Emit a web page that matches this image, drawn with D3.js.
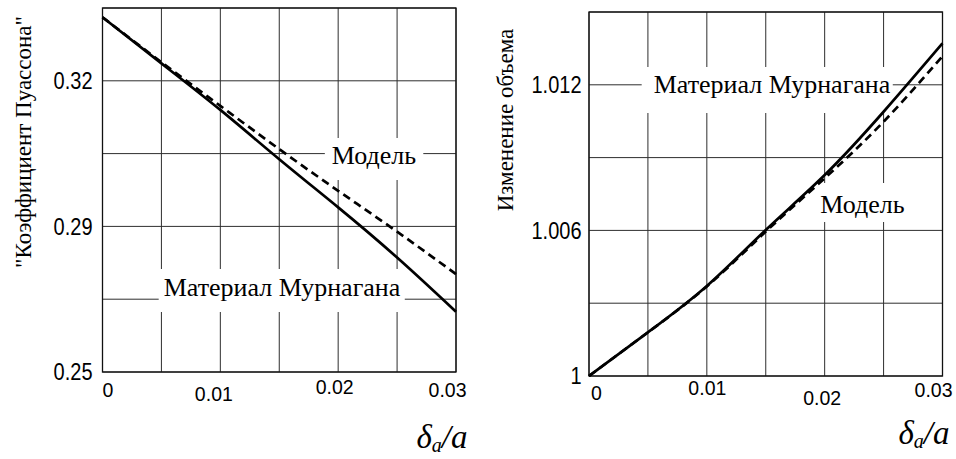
<!DOCTYPE html>
<html><head><meta charset="utf-8">
<script src="https://cdn.jsdelivr.net/npm/d3@7"></script>
<style>
html,body{margin:0;padding:0;background:#fff;}
svg{display:block;}
</style></head><body>
<svg id="chart" width="956" height="459"></svg>
<script>
// Relative displacement δa/a
const strain = [0, 0.005, 0.01, 0.015, 0.02, 0.025, 0.03];
// "Poisson ratio" vs strain
const poissonMurnaghan = [0.3377, 0.3263, 0.3148, 0.3026, 0.2907, 0.2783, 0.2649];
const poissonModel     = [0.3377, 0.3266, 0.3158, 0.3051, 0.2948, 0.2847, 0.2742];
// Volume change vs strain
const volumeMurnaghan = [1.0, 1.0018, 1.00371, 1.00602, 1.00828, 1.01089, 1.01371];
const volumeModel     = [1.0, 1.0018, 1.00369, 1.00595, 1.00815, 1.01048, 1.01318];

// Axes: grid values and labelled ticks
const xGrid = [0, 0.005, 0.01, 0.015, 0.02, 0.025, 0.03];
const xTicks = [0, 0.01, 0.02, 0.03];
const xTickLabels = ["0", "0.01", "0.02", "0.03"];
const poissonGrid = [0.25, 0.268, 0.286, 0.304, 0.322, 0.34];
const poissonTicks = [0.25, 0.286, 0.322];
const volumeGrid = [1, 1.003, 1.006, 1.009, 1.012, 1.015];
const volumeTicks = [1, 1.006, 1.012];

const svg = d3.select("#chart");

const panels = [
  {
    box: {left: 102.5, top: 8, right: 456, bottom: 372},
    yDomain: [0.25, 0.34], yGrid: poissonGrid, yTicks: poissonTicks,
    yFormat: d3.format(".2f"), yPad: 10,
    solid: poissonMurnaghan, dashed: poissonModel,
    yTitle: "\"Коэффициент Пуассона\"", yTitleX: 31, yTitleY: 142,
    xLabelShift: [[5, 18], [-7, 21.5], [-4, 15], [-9, 18]],
    xTitle: {x: 416.5, y: 448},
    notes: [
      {text: "Модель", cx: 374, base: 164, pad: [7, 7, 26, 16]},
      {text: "Материал Мурнагана", cx: 282, base: 296, pad: [5, 4, 27, 16]}
    ]
  },
  {
    box: {left: 589, top: 12, right: 942.5, bottom: 376},
    yDomain: [1, 1.015], yGrid: volumeGrid, yTicks: volumeTicks,
    yFormat: d3.format("~g"), yPad: 7.5,
    solid: volumeMurnaghan, dashed: volumeModel,
    yTitle: "Изменение объема", yTitleX: 513, yTitleY: 120,
    xLabelShift: [[7, 17], [0, 12], [-3, 22], [-9.5, 14]],
    xTitle: {x: 898.5, y: 444},
    notes: [
      {text: "Материал Мурнагана", cx: 772, base: 93, pad: [12, 2, 26, 20]},
      {text: "Модель", cx: 862.5, base: 213, pad: [5, 5, 30, 9]}
    ]
  }
];

panels.forEach(p => {
  const b = p.box;
  const x = d3.scaleLinear().domain([0, 0.03]).range([b.left, b.right]);
  const y = d3.scaleLinear().domain(p.yDomain).range([b.bottom, b.top]);
  const g = svg.append("g");

  // grid
  const grid = g.append("g").attr("stroke", "#2e2e2e").attr("stroke-width", 1);
  grid.selectAll("line.v").data(xGrid).join("line").attr("class", "v")
    .attr("x1", d => x(d)).attr("x2", d => x(d))
    .attr("y1", b.top).attr("y2", b.bottom);
  grid.selectAll("line.h").data(p.yGrid).join("line").attr("class", "h")
    .attr("x1", b.left).attr("x2", b.right)
    .attr("y1", d => y(d)).attr("y2", d => y(d));

  // frame
  g.append("rect")
    .attr("x", b.left).attr("y", b.top)
    .attr("width", b.right - b.left).attr("height", b.bottom - b.top)
    .attr("fill", "none").attr("stroke", "#111").attr("stroke-width", 1.3);

  // annotation texts with white backing that interrupts the grid
  const notes = g.append("g");
  p.notes.forEach(n => {
    const t = notes.append("text")
      .attr("x", n.cx).attr("y", n.base)
      .attr("text-anchor", "middle")
      .attr("font-family", "'Liberation Serif', 'Times New Roman', serif")
      .attr("font-size", 26).attr("fill", "#000")
      .text(n.text);
    const bb = t.node().getBBox();
    notes.insert("rect", "text")
      .attr("x", bb.x - n.pad[0]).attr("y", n.base - n.pad[2])
      .attr("width", bb.width + n.pad[0] + n.pad[1])
      .attr("height", n.pad[2] + n.pad[3])
      .attr("fill", "#fff");
  });

  // curves
  const line = d3.line()
    .x((d, i) => x(strain[i]))
    .y(d => y(d))
    .curve(d3.curveNatural);
  g.append("path").datum(p.dashed).attr("d", line)
    .attr("fill", "none").attr("stroke", "#000").attr("stroke-width", 2.7)
    .attr("stroke-dasharray", "8,5");
  g.append("path").datum(p.solid).attr("d", line)
    .attr("fill", "none").attr("stroke", "#000").attr("stroke-width", 2.7);

  // y axis labels
  const ya = g.append("g").attr("transform", `translate(${b.left},0)`)
    .call(d3.axisLeft(y).tickValues(p.yTicks).tickFormat(p.yFormat)
      .tickSize(0).tickPadding(p.yPad));
  ya.select(".domain").remove();
  ya.selectAll("text")
    .attr("font-family", "'Liberation Sans', Arial, sans-serif")
    .attr("font-size", 20).attr("fill", "#000")
    .attr("transform", "scale(1,1.2)");

  // x axis labels
  const xa = g.append("g").attr("transform", `translate(0,${b.bottom})`)
    .call(d3.axisBottom(x).tickValues(xTicks)
      .tickFormat((d, i) => xTickLabels[i]).tickSize(0).tickPadding(0));
  xa.select(".domain").remove();
  xa.selectAll("text")
    .attr("font-family", "'Liberation Sans', Arial, sans-serif")
    .attr("font-size", 19.5).attr("fill", "#000")
    .attr("dy", null)
    .attr("x", (d, i) => p.xLabelShift[i][0])
    .attr("y", (d, i) => p.xLabelShift[i][1] + 7);

  // y axis title
  svg.append("text")
    .attr("transform", `translate(${p.yTitleX},${p.yTitleY}) rotate(-90)`)
    .attr("text-anchor", "middle")
    .attr("font-family", "'Liberation Serif', 'Times New Roman', serif")
    .attr("font-size", 23).attr("fill", "#000")
    .text(p.yTitle);

  // x axis title δa/a
  const xt = svg.append("text")
    .attr("x", p.xTitle.x).attr("y", p.xTitle.y)
    .attr("font-family", "'Liberation Serif', 'Times New Roman', serif")
    .attr("font-style", "italic").attr("font-size", 33).attr("fill", "#000");
  xt.append("tspan").text("δ");
  xt.append("tspan").attr("font-size", 20).attr("dy", 4).text("a");
  xt.append("tspan").attr("dy", -4).text("/a");
});
</script>
</body></html>
